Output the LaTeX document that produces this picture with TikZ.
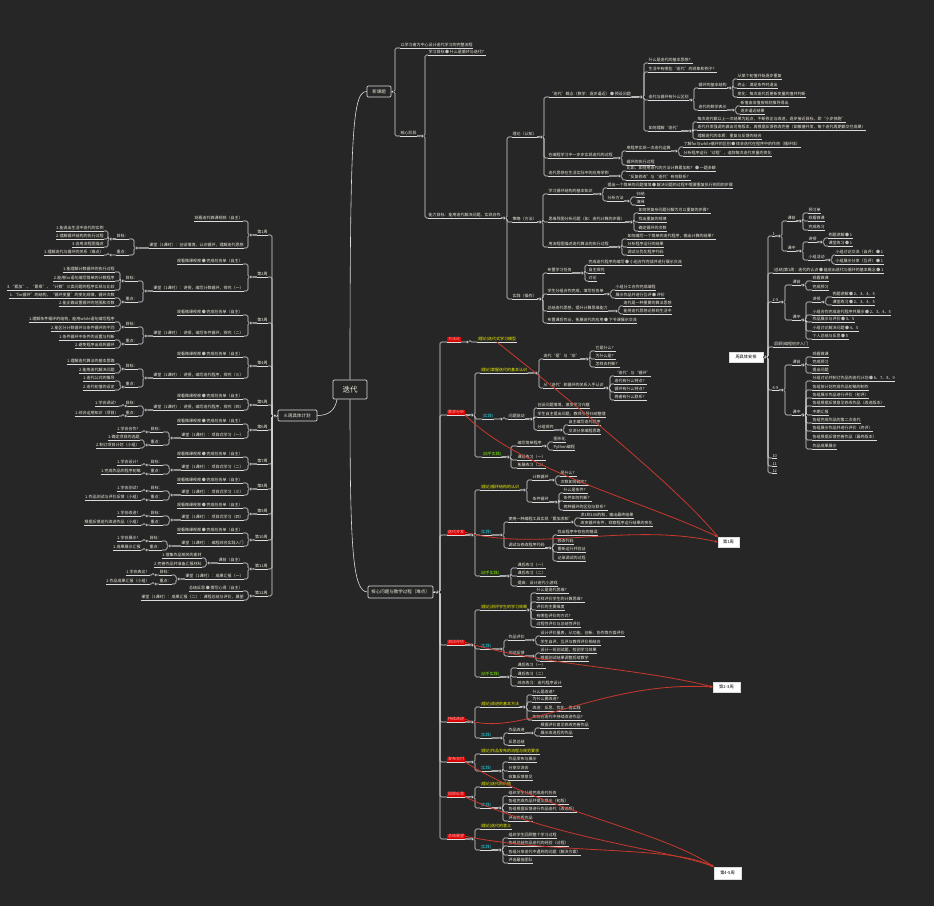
\documentclass[tikz,border=0pt]{standalone}
\usepackage{fontspec}
\setmainfont{Noto Sans CJK SC}
\usetikzlibrary{arrows.meta}
\definecolor{bg}{HTML}{262626}
\definecolor{linec}{HTML}{DCDCDC}
\definecolor{txtc}{HTML}{F0ECDE}
\definecolor{dotc}{HTML}{BDBDBD}
\definecolor{rlc}{HTML}{D80000}
\definecolor{rlt}{HTML}{FFB4B4}
\definecolor{relc}{HTML}{C8382C}
\definecolor{ylw}{HTML}{F5F500}
\definecolor{cyn}{HTML}{22D8E8}
\definecolor{grn}{HTML}{7CFC00}
\newcommand\dotm{\,{\color{dotc}●}\,}
\newcommand\marklist{}
\tikzset{
 tx/.style={font=\fontsize{4}{4.6}\selectfont, text=txtc, inner xsep=0.3pt, inner ysep=0.7pt},
 ln/.style={draw=linec, line width=0.6pt},
 mk/.style={fill=linec, draw=bg, line width=0.3pt},
 bx/.style={draw=linec, fill=bg, line width=0.7pt, rounded corners=1.2pt, text=txtc, inner sep=0pt},
 wb/.style={fill=white, draw=linec, text=black, inner sep=0pt, font=\fontsize{4.2}{5}\selectfont},
 rl/.style={tx, fill=rlc, text=rlt, inner xsep=0.8pt},
 yl/.style={tx, text=ylw},
 cy/.style={tx, text=cyn},
 gr/.style={tx, text=grn},
 rel/.style={draw=relc, line width=0.8pt, -{Stealth[length=3pt,width=2.6pt]}},
 hp/.style={inner sep=0pt, minimum size=0pt},
}
\newcommand\Rnode[7][tx]{%
 \node[#1,anchor=south west] (#2) at (#5,#6) {#7};
 \draw[ln] (#2.south west) -- (#2.south east);
 \draw[ln,rounded corners=1.5pt] (#3.south east) -| (#4,#6) -- (#2.south west);
 \path (#3.south east) -| coordinate[pos=0.5] (mk#2) (#4,#6);
 \expandafter\gdef\expandafter\marklist\expandafter{\marklist\fill[mk] (mk#2) ++(-2.8,0) circle (1.5pt);}%
}
\newcommand\Lnode[7][tx]{%
 \node[#1,anchor=south east] (#2) at (#5,#6) {#7};
 \draw[ln] (#2.south west) -- (#2.south east);
 \draw[ln,rounded corners=1.5pt] (#3.south west) -| (#4,#6) -- (#2.south east);
 \path (#3.south west) -| coordinate[pos=0.5] (mk#2) (#4,#6);
 \expandafter\gdef\expandafter\marklist\expandafter{\marklist\fill[mk] (mk#2) ++(2.8,0) circle (1.5pt);}%
}
\begin{document}
\begin{tikzpicture}[x=1pt,y=-1pt]
\useasboundingbox (0,0) rectangle (934,906);
\fill[bg] (0,0) rectangle (934,906);

% ===== centre =====
\node[bx, font=\fontsize{7.5}{8}\selectfont, minimum width=34pt, minimum height=19pt] (ct) at (350,389.5) {迭代};
\node[bx, font=\fontsize{4.5}{5}\selectfont, minimum width=24pt, minimum height=11pt] (xk) at (379,91.5) {新课题};
\node[bx, font=\fontsize{4.5}{5}\selectfont, minimum width=65pt, minimum height=12pt] (hx) at (400.5,592) {核心问题与教学过程（难点）};
\node[bx, font=\fontsize{4.5}{5}\selectfont, minimum width=39pt, minimum height=11pt] (zj) at (297.5,415.5) {8.周具体计划};
\draw[ln] (ct.north) .. controls +(0,-250) and +(-14,0) .. (xk.west);
\draw[ln] (ct.south) .. controls +(0,150) and +(-15,0) .. (hx.west);
\draw[ln] ([xshift=-13pt]ct.south) .. controls +(-2,12) and +(10,0) .. (zj.east);
\node[hp] (xkE) at (xk.east) {};
\node[hp] (hxE) at (hx.east) {};
\node[hp] (zjW) at (zj.west) {};

% ===== top tree =====
\Rnode{t1}{xkE}{395}{400}{48}{以学习者为中心设计迭代学习的完整流程}
\Rnode{t2}{xkE}{395}{400}{136}{核心阶段}
\Rnode{t21}{t2}{425}{428}{55}{学习目标\dotm 什么是循环与迭代？}
\Rnode{t22}{t2}{425}{428}{218}{能力目标：能用迭代解决问题，实现合作}
\Rnode{tA}{t22}{507}{512}{137}{理论（认知）}
\Rnode{tB}{t22}{507}{512}{222}{策略（方法）}
\Rnode{tC}{t22}{507}{512}{299}{实践（操作）}
\Rnode{a1}{tA}{544}{549}{97}{“迭代”概念（数学：逐步逼近）\dotm 预设问题}
\Rnode{a1a}{a1}{644}{648}{63}{什么是迭代的基本思想？}
\Rnode{a1b}{a1}{644}{648}{72}{生活中有哪些“迭代”的现象和例子？}
\Rnode{a1c}{a1}{644}{648}{100}{迭代与循环有什么区别}
\Rnode{a1c1}{a1c}{694}{698}{88}{循环的基本结构}
\Rnode{a1c1a}{a1c1}{733}{737}{79}{从某个初值开始逐步重复}
\Rnode{a1c1b}{a1c1}{733}{737}{88}{终止：满足条件时退出}
\Rnode{a1c1c}{a1c1}{733}{737}{97}{变化：每次迭代后更新变量的值并判断}
\Rnode{a1c2}{a1c}{694}{698}{110}{迭代的数学表示}
\Rnode{a1c2a}{a1c2}{736}{740}{106}{新值由旧值按规则推导得出}
\Rnode{a1c2b}{a1c2}{736}{740}{114}{逐步逼近结果}
\Rnode{a1d}{a1}{644}{648}{131}{如何理解“迭代”}
\Rnode{a1d1}{a1d}{693}{697}{122}{每次迭代都以上一次结果为起点，不断修正与改进，逐步接近目标，即“小步快跑”}
\Rnode{a1d2}{a1d}{693}{697}{130}{迭代开发强调先做出可用版本，再根据反馈修改完善（如敏捷开发，每个迭代周期都交付成果）}
\Rnode{a1d3}{a1d}{693}{697}{139}{理解迭代的本质：重复与反馈的结合}
\Rnode{a2}{tA}{544}{548}{158}{在编程学习中一步步实现迭代的过程}
\Rnode{a2a}{a2}{622}{626}{151}{用程序实现一次迭代运算}
\Rnode{a2a1}{a2a}{679}{683}{147}{了解for与while循环的区别\dotm 体会迭代在程序中的作用（循环体）}
\Rnode{a2a2}{a2a}{679}{683}{156}{分析程序运行“过程”，追踪每次迭代变量的变化}
\Rnode{a2b}{a2}{622}{626}{165}{循环的执行过程}
\Rnode{a3}{tA}{544}{548}{176}{迭代思想在生活实际中的应用举例}
\Rnode{a3a}{a3}{622}{626}{171}{比如，如何用迭代的方法计算累加和？\dotm 一题多解}
\Rnode{a3b}{a3}{622}{626}{180}{“反复修改”与“迭代”有何联系？}
\Rnode{b1}{tB}{543}{548}{194}{学习循环结构的基本知识}
\Rnode{b1a}{b1}{603}{607}{188}{提出一个简单的问题情境\dotm 解决问题的过程中需要重复执行相同的步骤}
\Rnode{b1b}{b1}{603}{607}{201}{分析方法}
\Rnode{b1b1}{b1b}{631}{636}{197}{归纳}
\Rnode{b1b2}{b1b}{631}{636}{205}{演绎}
\Rnode{b2}{tB}{543}{548}{222}{思维导图分析问题（如：迭代计算的步骤）}
\Rnode{b2a}{b2}{634}{638}{213}{如何将复杂问题分解为可以重复的步骤？}
\Rnode{b2b}{b2}{634}{638}{222}{找出重复的规律}
\Rnode{b2c}{b2}{634}{638}{231}{确定循环的次数}
\Rnode{b3}{tB}{543}{548}{247}{用流程图描述迭代算法的执行过程}
\Rnode{b3a}{b3}{622}{627}{239}{如何编写一个简单的迭代程序，输出计算的结果？}
\Rnode{b3b}{b3}{622}{627}{247}{分析程序运行的结果}
\Rnode{b3c}{b3}{622}{627}{255}{调试与优化程序代码}
\Rnode{c1}{tC}{543}{547}{273}{布置学习任务}
\Rnode{c1a}{c1}{585}{588}{265}{完成迭代程序的编写\dotm 小组合作完成并进行展示交流}
\Rnode{c1b}{c1}{585}{588}{273}{自主探究}
\Rnode{c1c}{c1}{585}{588}{281}{讨论}
\Rnode{c2}{tC}{543}{547}{294}{学生分组合作完成，填写任务单}
\Rnode{c2a}{c2}{611}{615}{290}{小组分工合作完成编程}
\Rnode{c2b}{c2}{611}{615}{298}{展示作品并进行互评\dotm 评价}
\Rnode{c3}{tC}{543}{547}{311}{总结迭代思想，提升计算思维能力}
\Rnode{c3a}{c3}{619}{623}{306}{迭代是一种重要的算法思想}
\Rnode{c3b}{c3}{619}{623}{314}{能将迭代思想迁移到生活中}
\Rnode{c4}{tC}{543}{547}{323}{布置课后作业，拓展迭代的应用\dotm 下节课展示交流}

% ===== bottom tree =====
\Rnode[rl]{r1}{hxE}{440}{447}{342}{方法论}
\Rnode[yl]{r1y}{r1}{470}{477}{342}{(理论)迭代式学习模型}
\Rnode[rl]{r2}{hxE}{440}{447}{415}{需求分析}
\Rnode[yl]{r2y}{r2}{475}{480}{373}{(理论)掌握迭代的基本认识}
\Rnode{r2y1}{r2y}{539}{543}{359}{迭代“是”与“非”}
\Rnode{r2y1a}{r2y1}{590}{595}{351}{它是什么？}
\Rnode{r2y1b}{r2y1}{590}{595}{359}{为什么是？}
\Rnode{r2y1c}{r2y1}{590}{595}{367}{怎样去判断？}
\Rnode{r2y2}{r2y}{539}{543}{388}{从“迭代”和循环的关系入手认识}
\Rnode{r2y2a}{r2y2}{610}{614}{376}{“迭代”与“循环”}
\Rnode{r2y2b}{r2y2}{610}{614}{384}{迭代有什么特点？}
\Rnode{r2y2c}{r2y2}{610}{614}{392}{循环有什么特点？}
\Rnode{r2y2d}{r2y2}{610}{614}{400}{两者有什么联系？}
\Rnode[cy]{r2c}{r2}{475}{482}{419}{(实践)}
\Rnode{r2c1}{r2c}{504}{508}{419}{问题驱动}
\Rnode{r2c1a}{r2c1}{534}{537}{408}{创设问题情境，激发学习兴趣}
\Rnode{r2c1b}{r2c1}{534}{537}{417}{学生自主提出问题，教师引导归纳整理}
\Rnode{r2c1c}{r2c1}{534}{537}{430}{分组探究}
\Rnode{r2c1c1}{r2c1c}{564}{568}{425}{自主编写迭代程序}
\Rnode{r2c1c2}{r2c1c}{564}{568}{434}{交流分享编程思路}
\Rnode[gr]{r2g}{r2}{475}{482}{457}{(动手实践)}
\Rnode{r2g1}{r2g}{511}{517}{446}{编写简单程序}
\Rnode{r2g1a}{r2g1}{548}{553}{442}{图形化}
\Rnode{r2g1b}{r2g1}{548}{553}{450}{Python编程}
\Rnode{r2g2}{r2g}{511}{517}{460}{课后练习（一）}
\Rnode{r2g3}{r2g}{511}{517}{468}{拓展练习（二）}
\Rnode[rl]{r3}{hxE}{440}{447}{535}{迭代开发}
\Rnode[yl]{r3y}{r3}{475}{480}{490}{(理论)循环结构的认识}
\Rnode{r3y1}{r3y}{527}{532}{480}{计数循环}
\Rnode{r3y1a}{r3y1}{556}{560}{476}{是什么？}
\Rnode{r3y1b}{r3y1}{556}{560}{485}{次数如何确定？}
\Rnode{r3y2}{r3y}{527}{532}{502}{条件循环}
\Rnode{r3y2a}{r3y2}{559}{563}{493}{什么是条件？}
\Rnode{r3y2b}{r3y2}{559}{563}{501}{条件如何判断？}
\Rnode{r3y2c}{r3y2}{559}{563}{510}{两种循环的区别与联系？}
\Rnode[cy]{r3c}{r3}{475}{480}{535}{(实践)}
\Rnode{r3c1}{r3c}{504}{508}{522}{使用一种编程工具实现“累加求和”}
\Rnode{r3c1a}{r3c1}{575}{580}{518}{求1到100的和，输出最终结果}
\Rnode{r3c1b}{r3c1}{575}{580}{526}{改变循环条件，观察程序运行结果的变化}
\Rnode{r3c2}{r3c}{504}{508}{548}{调试与修改程序代码}
\Rnode{r3c2a}{r3c2}{553}{557}{535}{找出程序中存在的错误}
\Rnode{r3c2b}{r3c2}{553}{557}{544}{修改代码}
\Rnode{r3c2c}{r3c2}{553}{557}{552}{重新运行并验证}
\Rnode{r3c2d}{r3c2}{553}{557}{561}{记录调试的过程}
\Rnode[gr]{r3g}{r3}{475}{480}{576}{(动手实践)}
\Rnode{r3g1}{r3g}{511}{517}{568}{课后练习（一）}
\Rnode{r3g2}{r3g}{511}{517}{576}{课后练习（二）}
\Rnode{r3g3}{r3g}{511}{517}{586}{提高：设计迭代小游戏}
\Rnode[rl]{r4}{hxE}{440}{447}{645}{测试评估}
\Rnode[yl]{r4y}{r4}{475}{480}{610}{(理论)测评学生的学习效果}
\Rnode{r4y1}{r4y}{531}{536}{593}{什么是迭代思维？}
\Rnode{r4y2}{r4y}{531}{536}{602}{怎样评价学生的计算思维？}
\Rnode{r4y3}{r4y}{531}{536}{610}{评价的主要维度}
\Rnode{r4y4}{r4y}{531}{536}{619}{有哪些评价的方式？}
\Rnode{r4y5}{r4y}{531}{536}{627}{过程性评价与总结性评价}
\Rnode[cy]{r4c}{r4}{475}{480}{649}{(实践)}
\Rnode{r4c1}{r4c}{504}{508}{640}{作品评价}
\Rnode{r4c1a}{r4c1}{536}{540}{636}{设计评价量表，从功能、创新、协作等方面评价}
\Rnode{r4c1b}{r4c1}{536}{540}{645}{学生自评、互评与教师评价相结合}
\Rnode{r4c2}{r4c}{504}{508}{656}{测试反馈}
\Rnode{r4c2a}{r4c2}{536}{540}{653}{设计一份测试题，检测学习效果}
\Rnode{r4c2b}{r4c2}{536}{540}{661}{根据测试结果调整后续教学}
\Rnode[gr]{r4g}{r4}{475}{480}{677}{(动手实践)}
\Rnode{r4g1}{r4g}{511}{517}{668}{课后练习（一）}
\Rnode{r4g2}{r4g}{511}{517}{677}{课后练习（二）}
\Rnode{r4g3}{r4g}{511}{517}{686}{综合练习：迭代程序设计}
\Rnode[rl]{r5}{hxE}{440}{447}{722}{持续改进}
\Rnode[yl]{r5y}{r5}{475}{480}{707}{(理论)改进的基本方法}
\Rnode{r5y1}{r5y}{527}{532}{695}{什么是改进？}
\Rnode{r5y2}{r5y}{527}{532}{702}{为什么要改进？}
\Rnode{r5y3}{r5y}{527}{532}{711}{改进：反思、优化、再实践}
\Rnode{r5y4}{r5y}{527}{532}{720}{如何在迭代中持续改进作品？}
\Rnode[cy]{r5c}{r5}{475}{480}{738}{(实践)}
\Rnode{r5c1}{r5c}{504}{508}{733}{作品改进}
\Rnode{r5c1a}{r5c1}{535}{540}{728}{根据评价意见修改完善作品}
\Rnode{r5c1b}{r5c1}{535}{540}{736}{展示改进后的作品}
\Rnode{r5c2}{r5c}{504}{508}{745}{反思总结}
\Rnode[rl]{r6}{hxE}{440}{447}{762}{发布交付}
\Rnode[yl]{r6y}{r6}{475}{480}{754}{(理论)作品发布的流程与规范要求}
\Rnode[cy]{r6c}{r6}{475}{480}{771}{(实践)}
\Rnode{r6c1}{r6c}{503}{508}{762}{作品发布与展示}
\Rnode{r6c2}{r6c}{503}{508}{771}{分享交流会}
\Rnode{r6c3}{r6c}{503}{508}{780}{收集反馈意见}
\Rnode[rl]{r7}{hxE}{440}{447}{797}{回顾反思}
\Rnode[yl]{r7y}{r7}{475}{480}{787}{(理论)迭代的价值}
\Rnode[cy]{r7c}{r7}{475}{480}{808}{(实践)}
\Rnode{r7c1}{r7c}{503}{508}{796}{组织学生分组完成迭代任务}
\Rnode{r7c2}{r7c}{503}{508}{804}{各组完成作品并提交展示（初版）}
\Rnode{r7c3}{r7c}{503}{508}{812}{各组根据反馈进行作品迭代（改进版）}
\Rnode{r7c4}{r7c}{503}{508}{821}{评选优秀作品}
\Rnode[rl]{r8}{hxE}{440}{447}{839}{总结展望}
\Rnode[yl]{r8y}{r8}{475}{480}{829}{(理论)迭代的意义}
\Rnode[cy]{r8c}{r8}{475}{480}{850}{(实践)}
\Rnode{r8c1}{r8c}{503}{508}{838}{组织学生回顾整个学习过程}
\Rnode{r8c2}{r8c}{503}{508}{846}{各组总结作品迭代的经验（过程）}
\Rnode{r8c3}{r8c}{503}{508}{855}{各组分享迭代中遇到的问题（解决方案）}
\Rnode{r8c4}{r8c}{503}{508}{863}{评选最佳团队}

% ===== left tree =====
\Lnode{w1}{zjW}{272}{268}{235}{第1周}
\Lnode{w1a}{w1}{248}{243}{221}{观看迭代微课视频（自主）}
\Lnode{w1b}{w1}{248}{244}{248}{课堂（1课时）：创设情境，认识循环，理解迭代思想}
\Lnode{w1b1}{w1b}{134}{129}{239}{目标：}
\Lnode{w1b1a}{w1b1}{108}{104}{231}{1.能说出生活中迭代的实例}
\Lnode{w1b1b}{w1b1}{108}{104}{239}{2.理解循环结构的执行过程}
\Lnode{w1b1c}{w1b1}{108}{104}{247}{3.会用流程图描述}
\Lnode{w1b2}{w1b}{134}{129}{255}{重点：}
\Lnode{w1b2a}{w1b2}{108}{104}{255}{1.理解迭代与循环的关系（难点）}
\Lnode{w2}{zjW}{272}{268}{277}{第2周}
\Lnode{w2a}{w2}{248}{243}{264}{观看微课视频\dotm 完成任务单（自主）}
\Lnode{w2b}{w2}{248}{244}{291}{课堂（1课时）：讲授，编写计数循环，探究（一）}
\Lnode{w2b1}{w2b}{143}{138}{281}{目标：}
\Lnode{w2b1a}{w2b1}{120}{115}{272}{1.能理解计数循环的执行过程}
\Lnode{w2b1b}{w2b1}{120}{115}{281}{2.能用for语句编写简单的计数程序}
\Lnode{w2b1c}{w2b1}{120}{115}{290}{3.“累加”、“累乘”、“计数”三类问题的程序实现与比较}
\Lnode{w2b2}{w2b}{143}{138}{302}{重点：}
\Lnode{w2b2a}{w2b2}{120}{115}{298}{1.“for循环”的结构，“循环变量”的变化规律，循环次数}
\Lnode{w2b2b}{w2b2}{120}{115}{306}{2.能正确设置循环的范围和次数}
\Lnode{w3}{zjW}{272}{268}{323}{第3周}
\Lnode{w3a}{w3}{248}{243}{315}{观看微课视频\dotm 完成任务单（自主）}
\Lnode{w3b}{w3}{248}{244}{336}{课堂（1课时）：讲授，编写条件循环，探究（二）}
\Lnode{w3b1}{w3b}{143}{138}{327}{目标：}
\Lnode{w3b1a}{w3b1}{120}{115}{322}{1.理解条件循环的结构，能用while语句编写程序}
\Lnode{w3b1b}{w3b1}{120}{115}{331}{2.能区分计数循环与条件循环的不同}
\Lnode{w3b2}{w3b}{143}{138}{344}{重点：}
\Lnode{w3b2a}{w3b2}{120}{115}{340}{1.条件循环中条件的设置与判断}
\Lnode{w3b2b}{w3b2}{120}{115}{348}{2.避免程序出现死循环}
\Lnode{w4}{zjW}{272}{268}{366}{第4周}
\Lnode{w4a}{w4}{248}{243}{357}{观看微课视频\dotm 完成任务单（自主）}
\Lnode{w4b}{w4}{248}{244}{378}{课堂（1课时）：讲授，编写迭代程序，探究（三）}
\Lnode{w4b1}{w4b}{143}{138}{369}{目标：}
\Lnode{w4b1a}{w4b1}{120}{115}{364}{1.理解迭代算法的基本思路}
\Lnode{w4b1b}{w4b1}{120}{115}{373}{2.能用迭代解决问题}
\Lnode{w4b2}{w4b}{143}{138}{387}{重点：}
\Lnode{w4b2a}{w4b2}{120}{115}{381}{1.迭代公式的推导}
\Lnode{w4b2b}{w4b2}{120}{115}{390}{2.迭代初值的设定}
\Lnode{w5}{zjW}{272}{268}{405}{第5周}
\Lnode{w5a}{w5}{248}{243}{399}{观看微课视频\dotm 完成任务单（自主）}
\Lnode{w5b}{w5}{248}{244}{410}{课堂（1课时）：讲授，编写迭代程序，探究（四）}
\Lnode{w5b1}{w5b}{143}{138}{406}{目标：}
\Lnode{w5b1a}{w5b1}{123}{119}{406}{1.学会调试！}
\Lnode{w5b2}{w5b}{143}{138}{416}{重点：}
\Lnode{w5b2a}{w5b2}{123}{119}{416}{1.综合运用知识（项目）}
\Lnode{w6}{zjW}{272}{268}{430}{第6周}
\Lnode{w6a}{w6}{248}{243}{424}{观看微课视频\dotm 完成任务单（自主）}
\Lnode{w6b}{w6}{248}{244}{438}{课堂（1课时）：项目式学习（一）}
\Lnode{w6b1}{w6b}{169}{163}{432}{目标：}
\Lnode{w6b1a}{w6b1}{144}{141}{432}{1.学会合作！}
\Lnode{w6b2}{w6b}{169}{163}{445}{重点：}
\Lnode{w6b2a}{w6b2}{144}{140}{440}{1.确定项目的选题}
\Lnode{w6b2b}{w6b2}{144}{140}{448}{2.制订项目计划（小组）}
\Lnode{w7}{zjW}{272}{268}{464}{第7周}
\Lnode{w7a}{w7}{248}{243}{457}{观看微课视频\dotm 完成任务单（自主）}
\Lnode{w7b}{w7}{248}{244}{470}{课堂（1课时）：项目式学习（二）}
\Lnode{w7b1}{w7b}{169}{163}{465}{目标：}
\Lnode{w7b1a}{w7b1}{144}{141}{465}{1.学会设计！}
\Lnode{w7b2}{w7b}{169}{163}{474}{重点：}
\Lnode{w7b2a}{w7b2}{144}{141}{474}{1.完成作品的程序初稿}
\Lnode{w8}{zjW}{272}{268}{489}{第8周}
\Lnode{w8a}{w8}{248}{243}{483}{观看微课视频\dotm 完成任务单（自主）}
\Lnode{w8b}{w8}{248}{244}{495}{课堂（1课时）：项目式学习（三）}
\Lnode{w8b1}{w8b}{169}{163}{491}{目标：}
\Lnode{w8b1a}{w8b1}{144}{141}{491}{1.学会测试！}
\Lnode{w8b2}{w8b}{169}{163}{500}{重点：}
\Lnode{w8b2a}{w8b2}{144}{141}{500}{1.作品测试与评价反馈（小组）}
\Lnode{w9}{zjW}{272}{268}{514}{第9周}
\Lnode{w9a}{w9}{248}{243}{508}{观看微课视频\dotm 完成任务单（自主）}
\Lnode{w9b}{w9}{248}{244}{520}{课堂（1课时）：项目式学习（四）}
\Lnode{w9b1}{w9b}{169}{163}{516}{目标：}
\Lnode{w9b1a}{w9b1}{144}{141}{516}{1.学会改进！}
\Lnode{w9b2}{w9b}{169}{163}{525}{重点：}
\Lnode{w9b2a}{w9b2}{144}{141}{525}{根据反馈迭代改进作品（小组）}
\Lnode{w10}{zjW}{272}{268}{540}{第10周}
\Lnode{w10a}{w10}{248}{243}{533}{观看微课视频\dotm 完成任务单（自主）}
\Lnode{w10b}{w10}{248}{244}{546}{课堂（1课时）：编程综合实践入门}
\Lnode{w10b1}{w10b}{167}{162}{541}{目标：}
\Lnode{w10b1a}{w10b1}{144}{141}{541}{1.学会展示！}
\Lnode{w10b2}{w10b}{167}{162}{550}{重点：}
\Lnode{w10b2a}{w10b2}{144}{141}{550}{1.成果展示汇报}
\Lnode{w11}{zjW}{272}{268}{569}{第11周}
\Lnode{w11a}{w11}{248}{243}{563}{课前（自主）}
\Lnode{w11a1}{w11a}{206}{202}{558}{1.搜集作品相关的素材}
\Lnode{w11a2}{w11a}{206}{202}{567}{2.完善作品并准备汇报材料}
\Lnode{w11b}{w11}{248}{244}{579}{课堂（1课时）：成果汇报（一）}
\Lnode{w11b1}{w11b}{176}{172}{575}{目标：}
\Lnode{w11b1a}{w11b1}{153}{150}{575}{1.学会表达！}
\Lnode{w11b2}{w11b}{176}{172}{584}{重点：}
\Lnode{w11b2a}{w11b2}{153}{150}{584}{1.作品成果汇报（小组）}
\Lnode{w12}{zjW}{272}{268}{596}{第12周}
\Lnode{w12a}{w12}{248}{243}{591}{总结反思\dotm 撰写心得（自主）}
\Lnode{w12b}{w12}{248}{244}{600}{课堂（1课时）：成果汇报（二）：课程总结与评价，展望}

% ===== right tree =====
\node[wb, minimum width=34pt, minimum height=10pt] (ap) at (746,357) {周具体安排};
\node[hp] (apE) at (ap.east) {};
\Rnode{q1}{apE}{768}{772}{236}{1}
\Rnode{q1a}{q1}{782}{787}{221}{课前}
\Rnode{q1a1}{q1a}{803}{808}{213}{预习单}
\Rnode{q1a2}{q1a}{803}{808}{221}{观看微课}
\Rnode{q1a3}{q1a}{803}{808}{230}{完成练习}
\Rnode{q1b}{q1}{782}{787}{251}{课中}
\Rnode{q1b1}{q1b}{803}{808}{242}{讲授}
\Rnode{q1b1a}{q1b1}{824}{828}{238}{例题讲解\dotm 1}
\Rnode{q1b1b}{q1b1}{824}{828}{246}{课堂练习\dotm 1}
\Rnode{q1b2}{q1b}{803}{808}{260}{小组活动}
\Rnode{q1b2a}{q1b2}{832}{835}{255}{小组讨论交流（自评）\dotm 1}
\Rnode{q1b2b}{q1b2}{832}{835}{264}{小组展示分享（互评）\dotm 1}
\Rnode{q2}{apE}{768}{773}{273}{(总结)第1周：迭代的认识\dotm 能说出迭代与循环的基本概念\dotm 1}
\Rnode{q3}{apE}{768}{772}{302}{2-5}
\Rnode{q3a}{q3}{785}{792}{285}{课前}
\Rnode{q3a1}{q3a}{806}{812}{281}{观看微课}
\Rnode{q3a2}{q3a}{806}{812}{290}{完成预习}
\Rnode{q3b}{q3}{785}{792}{320}{课中}
\Rnode{q3b1}{q3b}{806}{812}{302}{讲授}
\Rnode{q3b1a}{q3b1}{826}{832}{297}{例题讲解\dotm 2、3、4、5}
\Rnode{q3b1b}{q3b1}{826}{832}{305}{课堂练习\dotm 2、3、4、5}
\Rnode{q3b2}{q3b}{806}{812}{315}{小组合作完成迭代程序并展示\dotm 2、3、4、5}
\Rnode{q3b3}{q3b}{806}{812}{322}{作品展示与评价\dotm 3、5}
\Rnode{q3b4}{q3b}{806}{812}{331}{小组讨论解决问题\dotm 4、5}
\Rnode{q3b5}{q3b}{806}{812}{339}{个人总结与反思\dotm 5}
\Rnode{q4}{apE}{768}{773}{347}{(回顾)编程初步入门}
\Rnode{q5}{apE}{768}{772}{390}{6-9}
\Rnode{q5a}{q5}{785}{792}{365}{课前}
\Rnode{q5a1}{q5a}{806}{812}{357}{观看微课}
\Rnode{q5a2}{q5a}{806}{812}{365}{完成预习}
\Rnode{q5a3}{q5a}{806}{812}{373}{提出问题}
\Rnode{q5b}{q5}{785}{792}{415}{课中}
\Rnode{q5b1}{q5b}{806}{812}{381}{分组讨论并制订作品的迭代计划\dotm 6、7、8、9}
\Rnode{q5b2}{q5b}{806}{812}{390}{各组按计划完成作品初稿的制作}
\Rnode{q5b3}{q5b}{806}{812}{398}{各组展示作品进行评价（初评）}
\Rnode{q5b4}{q5b}{806}{812}{406}{各组根据反馈意见修改作品（改进版本）}
\Rnode{q5b5}{q5b}{806}{812}{415}{中期汇报}
\Rnode{q5b6}{q5b}{806}{812}{423}{各组完成作品的第二次迭代}
\Rnode{q5b7}{q5b}{806}{812}{431}{各组展示作品并进行评价（终评）}
\Rnode{q5b8}{q5b}{806}{812}{440}{各组根据反馈完善作品（最终版本）}
\Rnode{q5b9}{q5b}{806}{812}{449}{作品成果展示}
\Rnode{q6}{apE}{768}{772}{458}{10}
\Rnode{q7}{apE}{768}{772}{466}{11}
\Rnode{q8}{apE}{768}{772}{473}{12}

% ===== week boxes and relations =====
\node[wb, minimum width=21pt, minimum height=10pt] (wk1) at (728.5,542) {第1周};
\node[wb, minimum width=27pt, minimum height=10pt] (wk23) at (726.5,687) {第2-3周};
\node[wb, minimum width=27pt, minimum height=12pt] (wk45) at (727.5,873) {第4-5周};
\draw[rel] (r1y.south) .. controls (570,400) and (680,490) .. (wk1.north west);
\draw[rel] (r2.south east) .. controls (520,470) and (640,500) .. (wk1.north west);
\draw[rel] (r3.east) .. controls (540,552) and (630,522) .. (wk1.west);
\draw[rel] (r4.east) .. controls (540,665) and (640,668) .. (wk23.west);
\draw[rel] (r5.east) .. controls (520,740) and (600,680) .. (wk23.west);
\draw[rel] (r6.south east) .. controls (540,810) and (660,830) .. (wk45.north west);
\draw[rel] (r7.south east) .. controls (560,840) and (670,850) .. (wk45.north west);
\draw[rel] (r8.east) .. controls (560,855) and (670,845) .. (wk45.north west);

% ===== collapse markers on top =====
\marklist
\end{tikzpicture}
\end{document}
